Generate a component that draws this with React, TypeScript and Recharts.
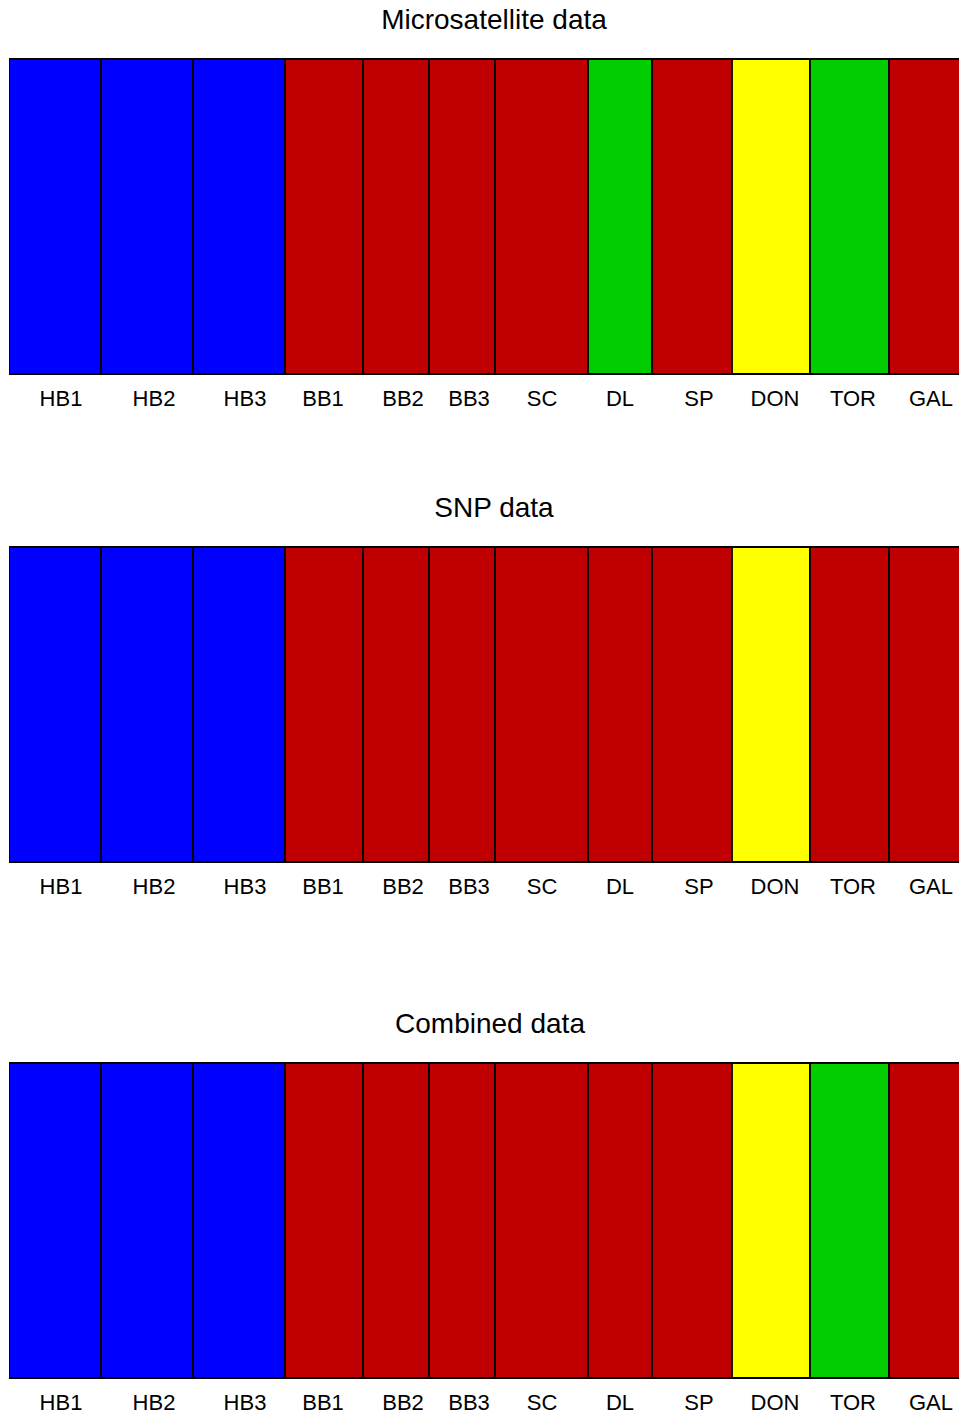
import React from 'react';
import { BarChart, Bar, XAxis, YAxis } from 'recharts';

// Populations (sample-size widths)
const populations = ['HB1', 'HB2', 'HB3', 'BB1', 'BB2', 'BB3', 'SC', 'DL', 'SP', 'DON', 'TOR', 'GAL'];
const widths = [92, 92, 92, 78, 66, 66, 93, 64, 80, 78, 79, 79];

// Tick label positions (same units as the widths)
const tickPositions = [52, 145, 236, 314, 394, 460, 533, 611, 690, 766, 844, 922];
const tickLabels = ['HB1', 'HB2', 'HB3', 'BB1', 'BB2', 'BB3', 'SC', 'DL', 'SP', 'DON', 'TOR', 'GAL'];

// Cluster assignment per population for each dataset
const microsatClusters = ['blue', 'blue', 'blue', 'red', 'red', 'red', 'red', 'green', 'red', 'yellow', 'green', 'red'];
const snpClusters = ['blue', 'blue', 'blue', 'red', 'red', 'red', 'red', 'red', 'red', 'yellow', 'red', 'red'];
const combinedClusters = ['blue', 'blue', 'blue', 'red', 'red', 'red', 'red', 'red', 'red', 'yellow', 'green', 'red'];

const clusterColors: Record<string, string> = {
  blue: '#0000FF',
  red: '#C00000',
  green: '#00CC00',
  yellow: '#FFFF00',
};

const FONT = '"Liberation Sans", Arial, Helvetica, sans-serif';
const total = widths.reduce((a, b) => a + b, 0);

const row: Record<string, number | string> = { row: 'all' };
populations.forEach((p, i) => {
  row[p] = widths[i];
});
const chartData = [row];

function Panel({ clusters, top }: { clusters: string[]; top: number }) {
  return (
    <div style={{ position: 'absolute', left: 0, top }}>
      <BarChart
        width={970}
        height={356}
        layout="vertical"
        data={chartData}
        margin={{ top: 1, right: 2, bottom: 0, left: 9 }}
        barCategoryGap={0}
        barGap={0}
      >
        <YAxis type="category" dataKey="row" hide />
        <XAxis
          type="number"
          domain={[0, total]}
          ticks={tickPositions}
          interval={0}
          allowDataOverflow
          height={40}
          axisLine={false}
          tickLine={false}
          tickSize={0}
          tickMargin={16}
          tickFormatter={(v: number) => tickLabels[tickPositions.indexOf(v)] ?? ''}
          tick={{ fill: '#000', fontSize: 22, fontFamily: FONT }}
        />
        {populations.map((p, i) => (
          <Bar
            key={p}
            dataKey={p}
            stackId="s"
            fill={clusterColors[clusters[i]]}
            stroke="#000"
            strokeWidth={1.8}
            isAnimationActive={false}
          />
        ))}
      </BarChart>
    </div>
  );
}

function Title({ text, center, top }: { text: string; center: number; top: number }) {
  return (
    <div
      style={{
        position: 'absolute',
        left: center - 250,
        top,
        width: 500,
        textAlign: 'center',
        fontFamily: FONT,
        fontSize: 28,
        lineHeight: '28px',
        color: '#000',
        whiteSpace: 'nowrap',
      }}
    >
      {text}
    </div>
  );
}

export default function App() {
  return (
    <div
      style={{
        position: 'fixed',
        left: 0,
        top: 0,
        width: 959,
        height: 1414,
        overflow: 'hidden',
        background: '#fff',
      }}
    >
      <Title text="Microsatellite data" center={494} top={6} />
      <Panel clusters={microsatClusters} top={58} />
      <Title text="SNP data" center={494} top={494} />
      <Panel clusters={snpClusters} top={546} />
      <Title text="Combined data" center={490} top={1010} />
      <Panel clusters={combinedClusters} top={1062} />
    </div>
  );
}
